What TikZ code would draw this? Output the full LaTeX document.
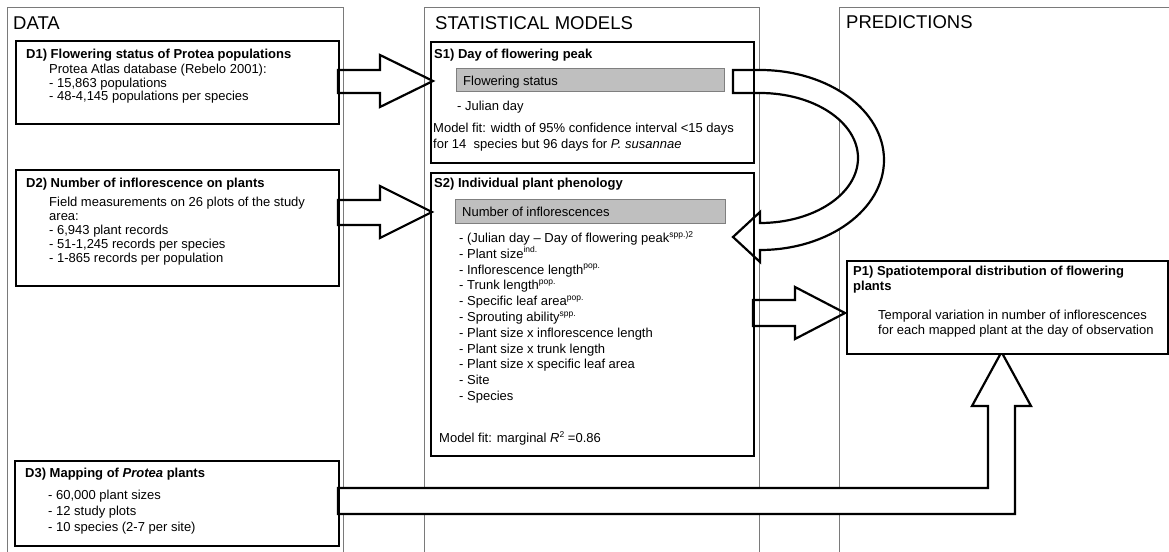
\documentclass[tikz,border=0pt]{standalone}
\usepackage{fontspec}
\setmainfont{Liberation Sans}
\definecolor{panelgray}{HTML}{7A7A7A}
\definecolor{boxfill}{HTML}{BFBFBF}
\definecolor{boxedge}{HTML}{7F7F7F}
\newcommand{\bodyfont}{\fontsize{13bp}{15bp}\selectfont}
\newcommand{\headfont}{\fontsize{18.5bp}{21bp}\selectfont}
\newcommand{\sups}[1]{\raisebox{0.42em}{\fontsize{8.5bp}{9bp}\selectfont #1}}
\begin{document}
\begin{tikzpicture}[x=1bp,y=-1bp,
  panel/.style={draw=panelgray, line width=1bp},
  box/.style={draw=black, line width=2.4bp, anchor=north west, inner sep=0pt},
  graybox/.style={draw=boxedge, fill=boxfill, line width=1bp, anchor=north west, inner sep=0pt},
  barrow/.style={draw=black, line width=2.2bp, line join=miter},
  warrow/.style={barrow, fill=white},
  txt/.style={inner sep=0pt, anchor=base west, font=\bodyfont},
  ttl/.style={inner sep=0pt, anchor=base west, font=\bodyfont\bfseries},
  hdr/.style={inner sep=0pt, anchor=base west, font=\headfont}]
\useasboundingbox (0,0) rectangle (1169,552);

% column panels
\draw[panel] (7,552) -- (7,8) -- (343,8) -- (343,552);
\draw[panel] (424,552) -- (424,8) -- (759,8) -- (759,552);
\draw[panel] (839,552) -- (839,8) -- (1169,8);
\node[hdr] (hdata) at (13,30) {DATA};
\node[hdr] (hstat) at (435,30) {STATISTICAL MODELS};
\node[hdr] (hpred) at (846,29) {PREDICTIONS};

% block arrows (outline only)
\draw[barrow] (338,70) -- (380,70) -- (380,55) -- (433,81) -- (380,107) -- (380,93) -- (338,93) -- cycle;
\draw[barrow] (338,200) -- (380,200) -- (380,186) -- (432,212) -- (380,238) -- (380,225) -- (338,225) -- cycle;
\draw[barrow] (753,300) -- (795,300) -- (795,287) -- (845,313) -- (795,339) -- (795,326) -- (753,326) -- cycle;

% curved arrow S1 -> S2
\draw[warrow] (733,93) -- (760,93)
  arc[start angle=90, end angle=-90, x radius=98bp, y radius=65bp]
  -- (760,212) -- (733,237) -- (760,262) -- (760,250)
  arc[start angle=-90, end angle=90, x radius=124bp, y radius=90bp]
  -- (733,70) -- cycle;

% bent arrow D3 -> P1
\draw[warrow] (338,488) -- (988,488) -- (988,406) -- (972,406) -- (1001.5,352)
  -- (1031,406) -- (1015,406) -- (1015,514) -- (338,514) -- cycle;

% boxes
\node[box, minimum width=323bp, minimum height=83bp] (d1) at (15,40) {};
\node[box, minimum width=323bp, minimum height=116bp] (d2) at (15,169) {};
\node[box, minimum width=324bp, minimum height=85bp] (d3) at (14,460) {};
\node[box, minimum width=323bp, minimum height=121bp] (s1) at (430,41) {};
\node[box, minimum width=323bp, minimum height=283bp] (s2) at (430,172) {};
\node[box, minimum width=321bp, minimum height=93bp, fill=white] (p1) at (846,260) {};
\node[graybox, minimum width=268bp, minimum height=23bp] (g1) at (456,68) {};
\node[graybox, minimum width=270bp, minimum height=24bp] (g2) at (455,199) {};

% D1
\node[ttl] (d1t) at (26,59) {D1) Flowering status of Protea populations};
\node[txt] (d1a) at (49,74) {Protea Atlas database (Rebelo 2001):};
\node[txt] (d1b) at (49,87.5) {- 15,863 populations};
\node[txt] (d1c) at (49,101) {- 48-4,145 populations per species};

% D2
\node[ttl] (d2t) at (26,187.5) {D2) Number of inflorescence on plants};
\node[txt] (d2a) at (49,207) {Field measurements on 26 plots of the study};
\node[txt] (d2b) at (49,221) {area:};
\node[txt] (d2c) at (49,235) {- 6,943 plant records};
\node[txt] (d2d) at (49,249) {- 51-1,245 records per species};
\node[txt] (d2e) at (49,263) {- 1-865 records per population};

% D3
\node[ttl] (d3t) at (25,477) {D3) Mapping of \textit{Protea} plants};
\node[txt] (d3a) at (48,499.5) {- 60,000 plant sizes};
\node[txt] (d3b) at (48,515.5) {- 12 study plots};
\node[txt] (d3c) at (48,531.5) {- 10 species (2-7 per site)};

% S1
\node[ttl] (s1t) at (434,58.3) {S1) Day of flowering peak};
\node[txt] (g1t) at (463,86) {Flowering status};
\node[txt] (s1a) at (457,111) {- Julian day};
\node[txt] (s1b) at (433,132.3) {Model fit: width of 95\% confidence interval <15 days};
\node[txt] (s1c) at (433,148.3) {for 14\ \ species but 96 days for \textit{P. susannae}};

% S2
\node[ttl] (s2t) at (434,187.7) {S2) Individual plant phenology};
\node[txt] (g2t) at (462,216.7) {Number of inflorescences};
\node[txt] (s2a) at (459,242.5) {- (Julian day – Day of flowering peak\sups{spp.)}\sups{2}};
\node[txt] (s2b) at (459,258.3) {- Plant size\sups{ind.}};
\node[txt] (s2c) at (459,274.1) {- Inflorescence length\sups{pop.}};
\node[txt] (s2d) at (459,289.9) {- Trunk length\sups{pop.}};
\node[txt] (s2e) at (459,305.7) {- Specific leaf area\sups{pop.}};
\node[txt] (s2f) at (459,321.5) {- Sprouting ability\sups{spp.}};
\node[txt] (s2g) at (459,337.3) {- Plant size x inflorescence length};
\node[txt] (s2h) at (459,353.1) {- Plant size x trunk length};
\node[txt] (s2i) at (459,368.9) {- Plant size x specific leaf area};
\node[txt] (s2j) at (459,384.7) {- Site};
\node[txt] (s2k) at (459,400.5) {- Species};
\node[txt] (s2m) at (439,442.7) {Model fit: marginal \textit{R}\sups{2} =0.86};

% P1
\node[ttl] (p1t) at (853,276) {P1) Spatiotemporal distribution of flowering};
\node[ttl] (p1u) at (853,290.7) {plants};
\node[txt] (p1a) at (878,320) {Temporal variation in number of inflorescences};
\node[txt] (p1b) at (878,335) {for each mapped plant at the day of observation};
\end{tikzpicture}
\end{document}
